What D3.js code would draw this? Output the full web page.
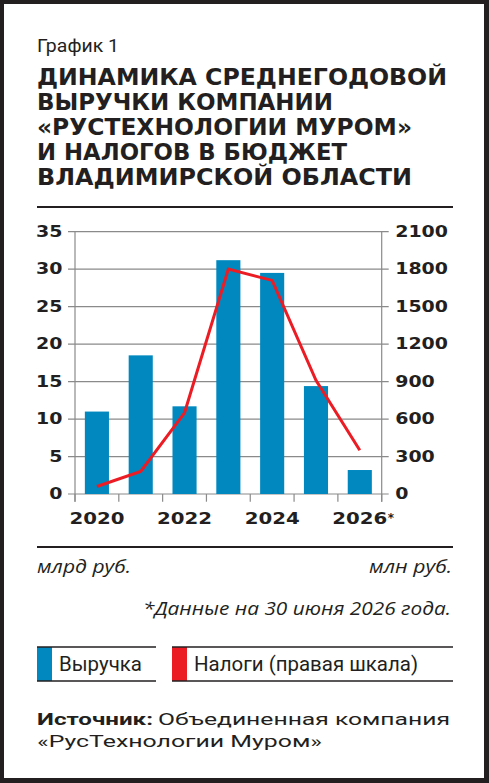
<!DOCTYPE html>
<html>
<head>
<meta charset="utf-8">
<script src="https://cdn.jsdelivr.net/npm/d3@7"></script>
<style>
  html, body { margin: 0; padding: 0; background: #231f20; }
  svg { display: block; }
  .tick text { fill: #231f20; }
</style>
</head>
<body>
<svg id="chart" width="489" height="783"></svg>
<script>
// chart data
const years = ["2020", "2021", "2022", "2023", "2024", "2025", "2026*"];
const revenue = [11, 18.5, 11.7, 31.2, 29.5, 14.4, 3.2];      // млрд руб.
const taxes = [60, 180, 650, 1800, 1710, 910, 350];           // млн руб.
const leftTicks = [0, 5, 10, 15, 20, 25, 30, 35];
const rightTicks = [0, 300, 600, 900, 1200, 1500, 1800, 2100];
const yearLabels = ["2020", "2022", "2024", "2026*"];

const titleLines = [
  "ДИНАМИКА СРЕДНЕГОДОВОЙ",
  "ВЫРУЧКИ КОМПАНИИ",
  "«РУСТЕХНОЛОГИИ МУРОМ»",
  "И НАЛОГОВ В БЮДЖЕТ",
  "ВЛАДИМИРСКОЙ ОБЛАСТИ"
];
const titleWidths = [410, 296, 375, 310, 375];

const BLUE = "#0088bf",
      RED  = "#ec1c24",
      INK  = "#231f20",
      GRID = "#8a8a8a";

const svg = d3.select("#chart");

svg.append("rect")
  .attr("x", 4).attr("y", 4)
  .attr("width", 480).attr("height", 774)
  .attr("fill", "#fff");

// header
svg.append("text")
  .attr("x", 37).attr("y", 52)
  .attr("font-family", "Roboto")
  .attr("font-size", 19)
  .attr("fill", INK)
  .attr("textLength", 82)
  .attr("lengthAdjust", "spacingAndGlyphs")
  .text("График 1");

svg.selectAll(".title")
  .data(titleLines)
  .enter().append("text")
  .attr("class", "title")
  .attr("x", 37)
  .attr("y", (d, i) => 85 + i * 25)
  .attr("font-family", "DejaVu Sans")
  .attr("font-weight", "bold")
  .attr("font-size", 22.5)
  .attr("fill", INK)
  .attr("textLength", (d, i) => titleWidths[i])
  .attr("lengthAdjust", "spacingAndGlyphs")
  .text(d => d);

svg.append("line")
  .attr("x1", 37).attr("x2", 453)
  .attr("y1", 207).attr("y2", 207)
  .attr("stroke", INK).attr("stroke-width", 2.2);

// plot
const margin = { left: 75, right: 381.7, top: 231.7, bottom: 494 };

const x = d3.scaleBand()
  .domain(years)
  .range([margin.left, margin.right])
  .paddingInner(0.45)
  .paddingOuter(0.225);

const yL = d3.scaleLinear().domain([0, 35]).range([margin.bottom, margin.top]);
const yR = d3.scaleLinear().domain([0, 2100]).range([margin.bottom, margin.top]);

const g = svg.append("g");

// gridlines
g.selectAll(".grid")
  .data(leftTicks)
  .enter().append("line")
  .attr("x1", margin.left - 7).attr("x2", margin.right + 7)
  .attr("y1", d => yL(d)).attr("y2", d => yL(d))
  .attr("stroke", GRID).attr("stroke-width", 1.2);

// vertical axis lines
[margin.left, margin.right].forEach(px => {
  g.append("line")
    .attr("x1", px).attr("x2", px)
    .attr("y1", margin.top).attr("y2", margin.bottom + 7.7)
    .attr("stroke", GRID).attr("stroke-width", 1.2);
});

// bars
g.selectAll(".bar")
  .data(revenue)
  .enter().append("rect")
  .attr("class", "bar")
  .attr("x", (d, i) => x(years[i]))
  .attr("y", d => yL(d))
  .attr("width", x.bandwidth())
  .attr("height", d => yL(0) - yL(d))
  .attr("fill", BLUE);

// x ticks at cell boundaries
const gap = (x.step() - x.bandwidth()) / 2;
const bounds = years.map(d => x(d) - gap).concat([x(years[years.length - 1]) + x.bandwidth() + gap]);
g.selectAll(".xtick")
  .data(bounds)
  .enter().append("line")
  .attr("x1", d => d).attr("x2", d => d)
  .attr("y1", margin.bottom).attr("y2", margin.bottom + 7.7)
  .attr("stroke", GRID).attr("stroke-width", 1.2);

// line
const line = d3.line()
  .x((d, i) => x(years[i]) + x.bandwidth() / 2)
  .y(d => yR(d));

g.append("path")
  .datum(taxes)
  .attr("d", line)
  .attr("fill", "none")
  .attr("stroke", RED)
  .attr("stroke-width", 3)
  .attr("stroke-linejoin", "miter");

// axes (labels only)
const styleTicks = sel => {
  sel.select(".domain").remove();
  sel.selectAll(".tick line").remove();
  sel.selectAll(".tick text")
    .attr("font-family", "DejaVu Sans")
    .attr("font-weight", "bold")
    .attr("font-size", 15)
    .attr("textLength", function () { return this.textContent.length * 13.2; })
    .attr("lengthAdjust", "spacingAndGlyphs");
};

svg.append("g")
  .attr("transform", `translate(${margin.left}, 0)`)
  .call(d3.axisLeft(yL).tickValues(leftTicks).tickFormat(d3.format("d")).tickSize(0).tickPadding(12.5))
  .call(styleTicks);

svg.append("g")
  .attr("transform", `translate(${margin.right}, 0)`)
  .call(d3.axisRight(yR).tickValues(rightTicks).tickFormat(d3.format("d")).tickSize(0).tickPadding(13.5))
  .call(styleTicks);

const xl = svg.selectAll(".xlabel")
  .data(yearLabels)
  .enter().append("g")
  .attr("class", "xlabel")
  .attr("transform", d => `translate(${x(d) + x.bandwidth() / 2}, 524)`);

xl.append("text")
  .attr("text-anchor", "middle")
  .attr("font-family", "DejaVu Sans")
  .attr("font-weight", "bold")
  .attr("font-size", 15)
  .attr("fill", INK)
  .attr("textLength", 55)
  .attr("lengthAdjust", "spacingAndGlyphs")
  .text(d => d.replace("*", ""));

xl.filter(d => d.endsWith("*"))
  .append("text")
  .attr("x", 28)
  .attr("y", -2)
  .attr("font-family", "DejaVu Sans")
  .attr("font-weight", "bold")
  .attr("font-size", 12)
  .attr("fill", INK)
  .text("*");

// units and note
svg.append("line")
  .attr("x1", 37).attr("x2", 453)
  .attr("y1", 547).attr("y2", 547)
  .attr("stroke", INK).attr("stroke-width", 2.2);

const italic = (txt, px, py, anchor, w) => svg.append("text")
  .attr("x", px).attr("y", py)
  .attr("text-anchor", anchor)
  .attr("font-family", "Open Sans")
  .attr("font-style", "italic")
  .attr("font-size", 18)
  .attr("fill", INK)
  .attr("textLength", w)
  .attr("lengthAdjust", "spacingAndGlyphs")
  .text(txt);

italic("млрд руб.", 37, 573, "start", 94);
italic("млн руб.", 452, 573, "end", 83);
italic("*Данные на 30 июня 2026 года.", 451, 615, "end", 308);

// legend
const legend = [
  { label: "Выручка", color: BLUE, x0: 37, x1: 156, w: 83 },
  { label: "Налоги (правая шкала)", color: RED, x0: 172, x1: 453, w: 224 }
];

const lg = svg.selectAll(".legend")
  .data(legend)
  .enter().append("g")
  .attr("class", "legend");

lg.append("rect")
  .attr("x", d => d.x0).attr("y", 647)
  .attr("width", 15).attr("height", 34)
  .attr("fill", d => d.color);

lg.selectAll(".edge")
  .data(d => [647, 681].map(yy => ({ yy, d })))
  .enter().append("line")
  .attr("x1", e => e.d.x0).attr("x2", e => e.d.x1)
  .attr("y1", e => e.yy).attr("y2", e => e.yy)
  .attr("stroke", INK).attr("stroke-width", 1.5);

lg.append("text")
  .attr("x", d => d.x0 + 22)
  .attr("y", 671)
  .attr("font-family", "Roboto")
  .attr("font-size", 20)
  .attr("fill", INK)
  .attr("textLength", d => d.w)
  .attr("lengthAdjust", "spacingAndGlyphs")
  .text(d => d.label);

// source
const src = svg.append("text")
  .attr("x", 37).attr("y", 725)
  .attr("font-family", "Roboto")
  .attr("font-size", 17)
  .attr("fill", INK);
src.append("tspan")
  .attr("font-weight", "bold")
  .attr("textLength", 116)
  .attr("lengthAdjust", "spacingAndGlyphs")
  .text("Источник:");
src.append("tspan")
  .attr("x", 158)
  .attr("textLength", 292)
  .attr("lengthAdjust", "spacingAndGlyphs")
  .text("Объединенная компания");

svg.append("text")
  .attr("x", 37).attr("y", 747)
  .attr("font-family", "Roboto")
  .attr("font-size", 17)
  .attr("fill", INK)
  .attr("textLength", 285)
  .attr("lengthAdjust", "spacingAndGlyphs")
  .text("«РусТехнологии Муром»");
</script>
</body>
</html>
